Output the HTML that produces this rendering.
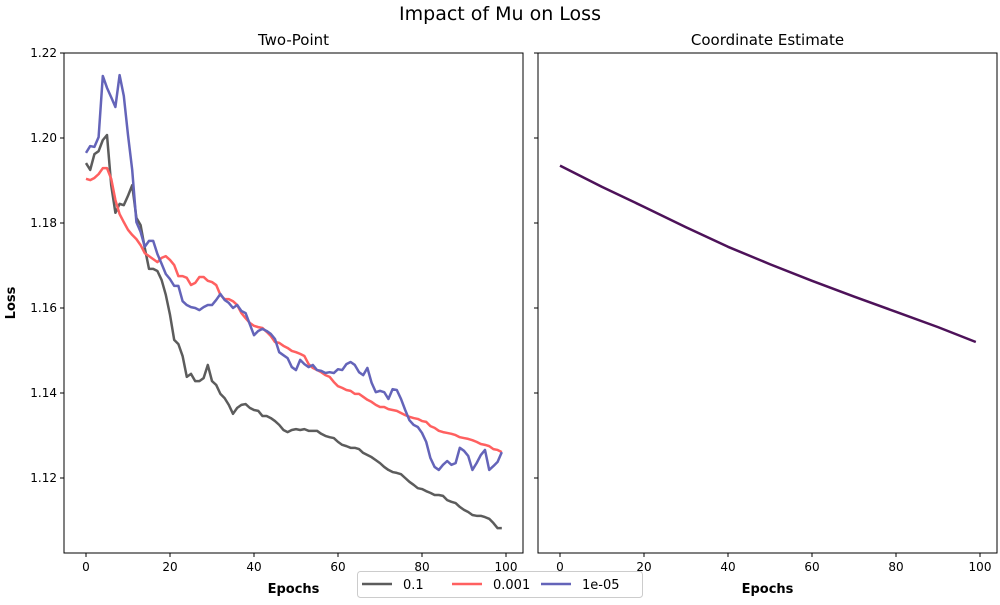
<!DOCTYPE html>
<html><head><meta charset="utf-8"><style>
body{margin:0;background:#fff;font-family:"Liberation Sans","DejaVu Sans",sans-serif}
svg text{font-family:"DejaVu Sans","Liberation Sans",sans-serif}
</style></head><body>
<svg id="chart" width="1000" height="600" xmlns="http://www.w3.org/2000/svg">
<rect width="1000" height="600" fill="#fff"/>
<text x="500" y="20" font-size="19" text-anchor="middle">Impact of Mu on Loss</text>
<g id="left"></g><g id="right"></g>
</svg>
<script>
const epochs = Array.from({length:100},(_,i)=>i);
const s01 = [1.1941,1.1925,1.1962,1.1969,1.1995,1.2007,1.1889,1.1824,1.1845,1.1842,1.1864,1.1889,1.1812,1.1795,1.1741,1.1692,1.1692,1.1687,1.1666,1.1631,1.1584,1.1525,1.1515,1.1487,1.1438,1.1445,1.1428,1.1428,1.1435,1.1466,1.1428,1.1419,1.1398,1.1388,1.1372,1.1351,1.1365,1.1372,1.1374,1.1365,1.1360,1.1358,1.1346,1.1346,1.1341,1.1334,1.1325,1.1313,1.1308,1.1313,1.1315,1.1313,1.1315,1.1311,1.1311,1.1311,1.1304,1.1299,1.1296,1.1294,1.1285,1.1278,1.1275,1.1271,1.1271,1.1268,1.1259,1.1254,1.1249,1.1242,1.1235,1.1226,1.1219,1.1214,1.1212,1.1209,1.1200,1.1191,1.1184,1.1176,1.1174,1.1169,1.1165,1.1160,1.1160,1.1158,1.1148,1.1144,1.1141,1.1132,1.1125,1.1120,1.1113,1.1111,1.1111,1.1108,1.1104,1.1094,1.1082,1.1082];
const s0001 = [1.1904,1.1901,1.1906,1.1915,1.1929,1.1929,1.1904,1.1854,1.1821,1.1802,1.1784,1.1772,1.1762,1.1748,1.1729,1.1722,1.1715,1.1708,1.1718,1.1722,1.1713,1.1701,1.1675,1.1675,1.1671,1.1654,1.1659,1.1673,1.1673,1.1664,1.1661,1.1654,1.1631,1.1621,1.1621,1.1616,1.1607,1.1588,1.1576,1.1565,1.1558,1.1555,1.1553,1.1544,1.1534,1.1520,1.1518,1.1511,1.1506,1.1499,1.1496,1.1492,1.1487,1.1468,1.1459,1.1454,1.1449,1.1442,1.1438,1.1426,1.1416,1.1412,1.1407,1.1405,1.1398,1.1398,1.1391,1.1384,1.1379,1.1372,1.1367,1.1367,1.1362,1.1360,1.1358,1.1353,1.1348,1.1344,1.1341,1.1339,1.1334,1.1332,1.1322,1.1318,1.1311,1.1308,1.1306,1.1304,1.1301,1.1296,1.1294,1.1292,1.1289,1.1285,1.1280,1.1278,1.1275,1.1268,1.1266,1.1261];
const s1e5 = [1.1965,1.1981,1.1979,1.2002,1.2146,1.2118,1.2096,1.2073,1.2148,1.2099,1.2007,1.1925,1.1802,1.1779,1.1744,1.1758,1.1758,1.1727,1.1704,1.1680,1.1668,1.1652,1.1652,1.1616,1.1607,1.1602,1.1600,1.1595,1.1602,1.1607,1.1607,1.1619,1.1633,1.1619,1.1612,1.1600,1.1607,1.1593,1.1588,1.1562,1.1536,1.1546,1.1551,1.1546,1.1539,1.1527,1.1496,1.1489,1.1482,1.1461,1.1454,1.1478,1.1468,1.1461,1.1466,1.1454,1.1452,1.1447,1.1449,1.1447,1.1456,1.1454,1.1468,1.1473,1.1466,1.1449,1.1442,1.1459,1.1424,1.1402,1.1405,1.1402,1.1386,1.1409,1.1407,1.1386,1.1360,1.1336,1.1325,1.1320,1.1306,1.1285,1.1247,1.1226,1.1219,1.1231,1.1240,1.1231,1.1235,1.1271,1.1264,1.1252,1.1219,1.1235,1.1254,1.1266,1.1219,1.1228,1.1238,1.1261];
const coordEpochs = [0,10,20,30,40,50,60,70,80,90,99];
const coordLoss = [1.1935,1.1885,1.1838,1.1790,1.1744,1.1703,1.1664,1.1627,1.1591,1.1555,1.1520];
const yTicks = [1.12,1.14,1.16,1.18,1.20,1.22];
const xTicks = [0,20,40,60,80,100];

const NS="http://www.w3.org/2000/svg";
function mk(tag,attrs,parent){const e=document.createElementNS(NS,tag);for(const k in attrs)e.setAttribute(k,attrs[k]);parent.appendChild(e);return e;}
const yScale=v=>478-(v-1.12)/0.02*85;
function panel(g,x0,title,showY){
  const xs=v=>x0+22+v*4.2;
  mk('rect',{x:x0,y:53,width:459,height:500,fill:'none',stroke:'#000','stroke-width':1},g);
  const t=mk('text',{x:x0+229.5,y:45,'font-size':15,'text-anchor':'middle'},g);t.textContent=title;
  
  
  xTicks.forEach(v=>{const x=xs(v);
    mk('line',{x1:x,x2:x,y1:553,y2:557,stroke:'#000'},g);
    const tx=mk('text',{x:x,y:571,'font-size':12,'text-anchor':'middle'},g);tx.textContent=v;
    
    });
  yTicks.forEach(v=>{const y=yScale(v);
    mk('line',{x1:x0-4,x2:x0,y1:y,y2:y,stroke:'#000'},g);
    if(showY){const ty=mk('text',{x:x0-7,y:y+4,'font-size':12,'text-anchor':'end'},g);ty.textContent=v.toFixed(2);
    
    }});
  const xl=mk('text',{x:x0+229.5,y:593,'font-size':13,'font-weight':'bold','text-anchor':'middle'},g);xl.textContent='Epochs';
  
  
  return xs;
}
function line(g,xs,xsArr,ys,color,name){
  const p=mk('polyline',{points:xsArr.map((x,i)=>xs(x)+','+yScale(ys[i])).join(' '),fill:'none',stroke:color,'stroke-width':2.5,'stroke-linejoin':'round'},g);
  
  
}
const L=document.getElementById('left'),R=document.getElementById('right');
const xl=panel(L,64,'Two-Point',true);
line(L,xl,epochs,s01,'#5c5c5c','line-mu-0.1');
line(L,xl,epochs,s0001,'#ff6060','line-mu-0.001');
line(L,xl,epochs,s1e5,'#6464b9','line-mu-1e-05');
const xr=panel(R,538,'Coordinate Estimate',false);
line(R,xr,coordEpochs,coordLoss,'#4d1259','line-coordinate-estimate');
const yl=mk('text',{x:15,y:303,'font-size':13,'font-weight':'bold','text-anchor':'middle',transform:'rotate(-90 15 303)'},L);yl.textContent='Loss';


// legend
const lg=mk('g',{},L);


mk('rect',{x:357.5,y:571.5,width:285,height:26,rx:3,fill:'#fff',stroke:'#ccc'},lg);
[['0.1','#5c5c5c',362],['0.001','#ff6060',452],['1e-05','#6464b9',541]].forEach(([lab,c,x])=>{
  const ge=mk('g',{},lg);
  
  
  mk('line',{x1:x,x2:x+30,y1:584,y2:584,stroke:c,'stroke-width':2.5},ge);
  const t=mk('text',{x:x+41,y:589,'font-size':13},ge);t.textContent=lab;
});
</script>
</body></html>
